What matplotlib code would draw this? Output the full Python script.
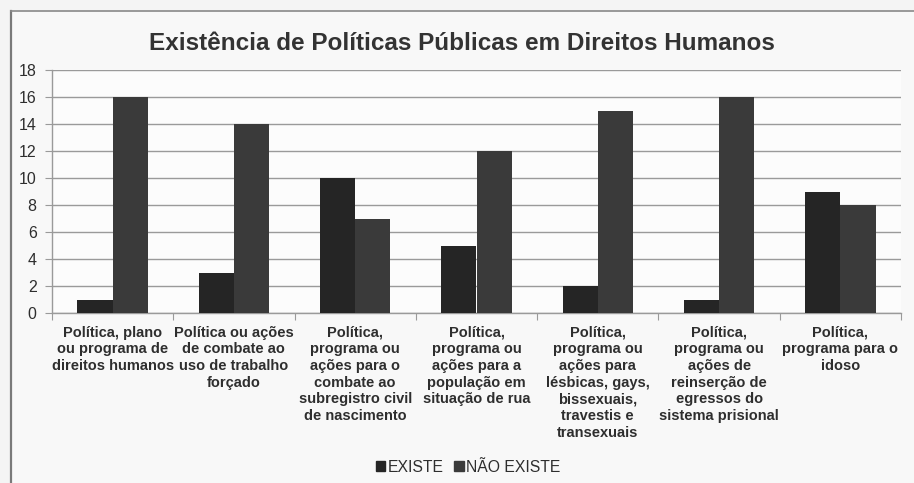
import matplotlib
matplotlib.use("Agg")
import matplotlib.pyplot as plt
import numpy as np
from matplotlib.patches import Rectangle
from matplotlib.lines import Line2D

plt.rcParams['font.family'] = ['Liberation Sans', 'DejaVu Sans']

categories = [
    "Política, plano\nou programa de\ndireitos humanos",
    "Política ou ações\nde combate ao\nuso de trabalho\nforçado",
    "Política,\nprograma ou\nações para o\ncombate ao\nsubregistro civil\nde nascimento",
    "Política,\nprograma ou\nações para a\npopulação em\nsituação de rua",
    "Política,\nprograma ou\nações para\nlésbicas, gays,\nbissexuais,\ntravestis e\ntransexuais",
    "Política,\nprograma ou\nações de\nreinserção de\negressos do\nsistema prisional",
    "Política,\nprograma para o\nidoso",
]
existe = [1, 3, 10, 5, 2, 1, 9]
nao_existe = [16, 14, 7, 12, 15, 16, 8]
series_names = ["EXISTE", "NÃO EXISTE"]
title = "Existência de Políticas Públicas em Direitos Humanos"

c_existe = "#252525"
c_nao = "#3a3a3a"
grid_c = "#9a9a9a"
text_c = "#2e2e2e"

W, H = 914, 483
fig = plt.figure(figsize=(W / 100, H / 100), dpi=100)
fig.patch.set_facecolor("#f4f4f4")

# chart frame: left and top edges only
fig.add_artist(Line2D([11 / W, 11 / W], [0, 1 - 11 / H], transform=fig.transFigure,
                      color="#7a7a7a", lw=1.6))
fig.add_artist(Line2D([11 / W, 1], [1 - 11 / H, 1 - 11 / H], transform=fig.transFigure,
                      color="#8a8a8a", lw=1.2))
fig.add_artist(Rectangle((12 / W, 0), 1, 1 - 12 / H, transform=fig.transFigure,
                         facecolor="#f8f8f8", edgecolor="none", zorder=-5))

left, right = 52 / W, 901 / W
bottom, top = 1 - 313 / H, 1 - 70 / H
ax = fig.add_axes([left, bottom, right - left, top - bottom])
ax.set_facecolor("#fcfcfc")

x = np.arange(len(categories))
bw = 0.29
ax.bar(x - bw / 2, existe, width=bw, color=c_existe, zorder=3, label=series_names[0])
ax.bar(x + bw / 2, nao_existe, width=bw, color=c_nao, zorder=3, label=series_names[1])

ax.set_xlim(-0.5, len(categories) - 0.5)
ax.set_ylim(0, 18)
ax.set_yticks(np.arange(0, 19, 2))
ax.yaxis.grid(True, color=grid_c, lw=1.0, zorder=0)
ax.set_axisbelow(True)

for s in ["top", "right"]:
    ax.spines[s].set_visible(False)
for s in ["left", "bottom"]:
    ax.spines[s].set_color(grid_c)
    ax.spines[s].set_linewidth(1.0)

ax.set_xticks(np.arange(-0.5, len(categories)), minor=False)
ax.set_xticklabels([])
ax.tick_params(axis="x", length=5, color=grid_c, direction="out")
ax.tick_params(axis="y", length=5, color=grid_c, direction="out", labelsize=11.5,
               labelcolor=text_c, pad=6)

for i, lab in enumerate(categories):
    ax.text(i, -0.95, lab, ha="center", va="top", fontsize=10.5, fontweight="bold",
            color=text_c, linespacing=1.24, clip_on=False)

fig.text(462 / W, 1 - 43 / H, title, ha="center", va="center", fontsize=17.5,
         fontweight="bold", color="#333333")

handles = [Rectangle((0, 0), 1, 1, color=c_existe), Rectangle((0, 0), 1, 1, color=c_nao)]
fig.legend(handles, series_names, loc="center", bbox_to_anchor=(468 / W, 1 - 467 / H),
           ncol=2, frameon=False, fontsize=11.3, handlelength=0.6, handleheight=0.6,
           handletextpad=0.15, columnspacing=0.7, labelcolor=text_c)

fig.savefig("out.png", dpi=100, facecolor=fig.get_facecolor())
